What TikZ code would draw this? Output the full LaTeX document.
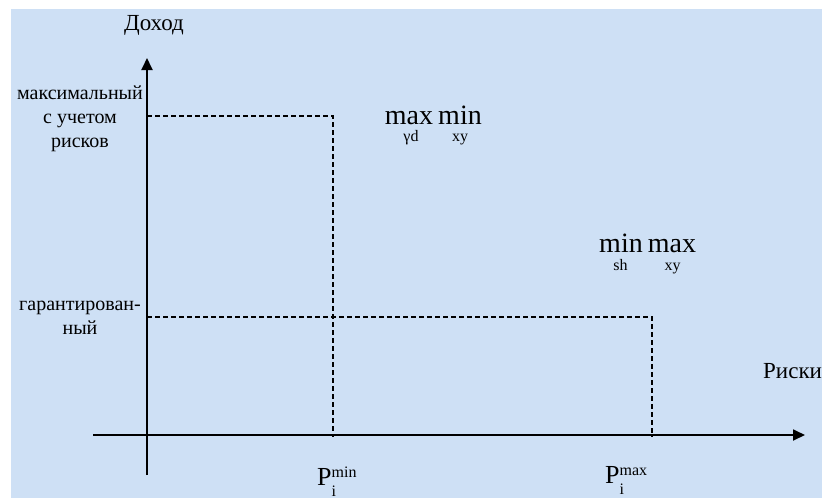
\documentclass[tikz,border=0pt]{standalone}
\usepackage{fontspec}
\setmainfont{Liberation Serif}
\usetikzlibrary{arrows.meta,positioning}
\definecolor{bgblue}{RGB}{206,224,245}
\newcommand{\plabel}[1]{P\makebox[0pt][l]{\raisebox{8pt}{\fontsize{16}{16}\selectfont #1}}%
  \raisebox{-11pt}{\fontsize{16}{16}\selectfont i}}

\begin{document}
\begin{tikzpicture}[x=1pt,y=-1pt,
  axis/.style={line width=1.8pt,-{Triangle[length=12pt,width=11pt]}},
  guide/.style={line width=1.5pt,dash pattern=on 5pt off 3pt},
  lbl/.style={inner sep=0pt,font=\fontsize{20}{24}\selectfont},
  biglbl/.style={inner sep=0pt,font=\fontsize{23}{26}\selectfont},
  opname/.style={inner sep=0pt,anchor=base,font=\fontsize{28}{28}\selectfont},
  opsub/.style={inner sep=0pt,anchor=base,font=\fontsize{16}{16}\selectfont}]
  \useasboundingbox (0,0) rectangle (822,498);
  \fill[bgblue] (11,9) rectangle (822,498);

  % axes
  \coordinate (ybot) at (147,475);
  \coordinate (ytop) at (147,58);
  \coordinate (xleft) at (93,435);
  \coordinate (xright) at (805,435);

  % levels and risks
  \coordinate (dmax) at (147,116);
  \coordinate (dgar) at (147,317);
  \coordinate (pmin) at (333,437);
  \coordinate (pmax) at (652,437);

  \draw[guide] (dmax) -| (pmin);
  \draw[guide] (dgar) -| (pmax);
  \draw[axis] (ybot) -- (ytop);
  \draw[axis] (xleft) -- (xright);

  \node[biglbl,anchor=base] (income) at (154,30) {Доход};
  \node[biglbl,anchor=base west] (risks) at (763,378) {Риски};
  \node[lbl,align=center] (maxlab) at (80,119) {максимальный\\с учетом\\рисков};
  \node[lbl,align=center] (garlab) at (80,318) {гарантирован-\\ный};

  \node[inner sep=0pt,anchor=base west,font=\fontsize{26}{26}\selectfont]
    (pminlab) at (317,485) {\plabel{min}};
  \node[inner sep=0pt,anchor=base west,font=\fontsize{26}{26}\selectfont]
    (pmaxlab) at (605,483) {\plabel{max}};

  % maxmin and minmax criteria
  \node[opname] (maxA) at (409,124) {max};
  \node[opname] (minA) at (460,124) {min};
  \node[opsub] (subA) at (411,141) {γd};
  \node[opsub] (subB) at (460,141) {xy};

  \node[opname] (minB) at (621,252) {min};
  \node[opname] (maxB) at (672,252) {max};
  \node[opsub] (subC) at (620.5,270) {sh};
  \node[opsub] (subD) at (672.5,270) {xy};
\end{tikzpicture}
\end{document}
